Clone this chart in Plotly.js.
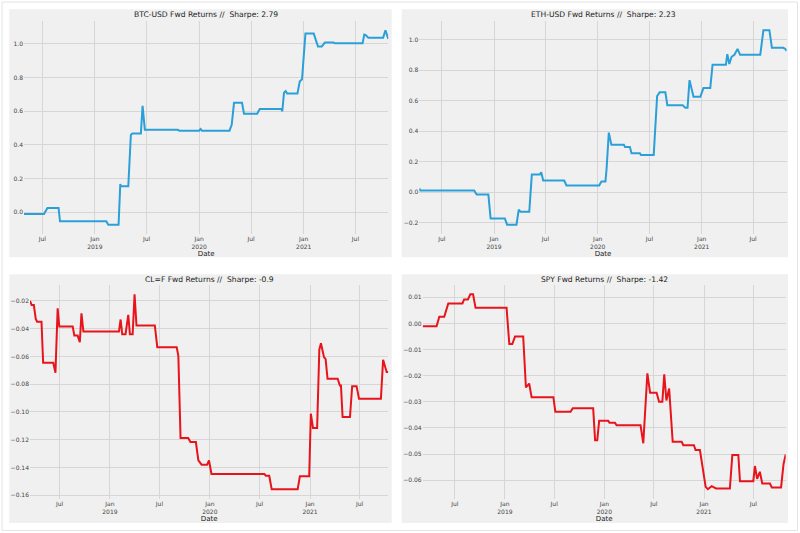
<!DOCTYPE html>
<html>
<head>
<meta charset="utf-8">
<script src="https://cdn.plot.ly/plotly-3.0.1.min.js"></script>
<style>html,body{margin:0;padding:0;background:#fff;}#chart{width:800px;height:533px;}</style>
</head>
<body>
<div id="chart"></div>
<script>
// ---------- DATA ----------
const btcTitle = "BTC-USD Fwd Returns //  Sharpe: 2.79";
const ethTitle = "ETH-USD Fwd Returns //  Sharpe: 2.23";
const clTitle  = "CL=F Fwd Returns //  Sharpe: -0.9";
const spyTitle = "SPY Fwd Returns //  Sharpe: -1.42";

const btcDates = ["2018-04-28","2018-07-07","2018-07-19","2018-08-27","2018-09-01","2019-02-10","2019-02-17","2019-03-25","2019-03-31","2019-04-02","2019-04-28","2019-05-07","2019-05-12","2019-06-11","2019-06-17","2019-06-25","2019-10-18","2019-10-24","2020-01-01","2020-01-06","2020-01-11","2020-04-16","2020-04-24","2020-05-02","2020-05-30","2020-06-06","2020-07-22","2020-07-31","2020-10-15","2020-10-18","2020-10-24","2020-10-30","2020-11-04","2020-12-10","2020-12-18","2020-12-26","2021-01-07","2021-02-05","2021-02-20","2021-03-05","2021-03-16","2021-04-15","2021-04-20","2021-07-26","2021-08-01","2021-08-06","2021-08-15","2021-10-06","2021-10-14","2021-10-24"];
const btcValues = [-0.010,-0.010,0.026,0.026,-0.053,-0.053,-0.073,-0.073,0.168,0.155,0.155,0.460,0.468,0.468,0.632,0.490,0.490,0.485,0.485,0.495,0.485,0.485,0.520,0.650,0.650,0.585,0.585,0.613,0.613,0.600,0.710,0.720,0.705,0.705,0.777,0.790,1.061,1.061,0.984,0.984,1.008,1.008,1.003,1.003,1.055,1.052,1.037,1.037,1.081,1.030];

const ethDates = ["2018-04-13","2018-04-16","2018-10-23","2018-11-01","2018-12-12","2018-12-20","2019-02-08","2019-02-16","2019-03-21","2019-03-29","2019-04-04","2019-05-05","2019-05-14","2019-06-11","2019-06-16","2019-06-23","2019-09-05","2019-09-13","2020-01-06","2020-01-14","2020-01-28","2020-02-01","2020-02-09","2020-02-18","2020-04-02","2020-04-06","2020-04-23","2020-04-29","2020-05-28","2020-06-01","2020-07-16","2020-07-28","2020-08-06","2020-08-26","2020-09-02","2020-10-26","2020-11-04","2020-11-12","2020-11-19","2020-12-03","2020-12-27","2021-01-07","2021-01-31","2021-02-08","2021-03-27","2021-04-01","2021-04-08","2021-04-16","2021-04-26","2021-05-07","2021-05-16","2021-07-26","2021-08-06","2021-08-27","2021-09-05","2021-10-15","2021-10-21","2021-10-27"];
const ethValues = [0.025,0.011,0.011,-0.015,-0.015,-0.172,-0.172,-0.213,-0.213,-0.115,-0.128,-0.128,0.115,0.115,0.130,0.076,0.076,0.044,0.044,0.070,0.070,0.150,0.390,0.310,0.310,0.296,0.296,0.255,0.255,0.244,0.244,0.630,0.654,0.654,0.569,0.569,0.553,0.553,0.734,0.625,0.625,0.682,0.682,0.834,0.834,0.904,0.840,0.887,0.900,0.939,0.900,0.900,1.061,1.061,0.946,0.946,0.940,0.926];

const clDates = ["2018-03-15","2018-03-21","2018-03-29","2018-04-05","2018-04-10","2018-04-26","2018-05-02","2018-06-08","2018-06-16","2018-06-24","2018-06-30","2018-08-18","2018-08-24","2018-09-05","2018-09-13","2018-09-19","2018-09-26","2019-02-03","2019-02-09","2019-02-15","2019-02-27","2019-03-09","2019-03-15","2019-03-25","2019-04-01","2019-04-08","2019-06-14","2019-06-23","2019-09-02","2019-09-08","2019-09-16","2019-10-14","2019-10-22","2019-11-11","2019-11-20","2019-12-02","2019-12-22","2019-12-29","2020-01-07","2020-07-18","2020-07-24","2020-08-05","2020-08-14","2020-11-17","2020-11-25","2020-12-29","2021-01-04","2021-01-12","2021-01-27","2021-02-04","2021-02-10","2021-02-21","2021-02-27","2021-03-06","2021-04-12","2021-04-20","2021-04-24","2021-04-30","2021-05-27","2021-06-04","2021-06-20","2021-06-29","2021-09-17","2021-09-25","2021-10-08","2021-10-14"];
const clValues = [-0.020,-0.023,-0.023,-0.033,-0.035,-0.035,-0.0646,-0.0646,-0.0718,-0.0253,-0.0385,-0.0385,-0.045,-0.045,-0.0497,-0.029,-0.042,-0.042,-0.0334,-0.044,-0.044,-0.030,-0.044,-0.044,-0.0152,-0.0377,-0.0377,-0.0533,-0.0533,-0.0598,-0.1188,-0.1188,-0.1217,-0.1217,-0.1348,-0.138,-0.138,-0.135,-0.1447,-0.1447,-0.146,-0.146,-0.1557,-0.1557,-0.1463,-0.1463,-0.1013,-0.1116,-0.1116,-0.055,-0.0505,-0.0605,-0.062,-0.0761,-0.0761,-0.0809,-0.0809,-0.1037,-0.1037,-0.0814,-0.0814,-0.0905,-0.0905,-0.0624,-0.0713,-0.0713];

const spyDates = ["2018-03-05","2018-04-25","2018-05-05","2018-05-23","2018-06-07","2018-07-29","2018-08-04","2018-08-18","2018-08-27","2018-09-06","2018-09-15","2019-01-07","2019-01-17","2019-01-28","2019-02-07","2019-03-09","2019-03-19","2019-03-31","2019-04-09","2019-06-28","2019-07-05","2019-08-30","2019-09-07","2019-11-21","2019-11-28","2019-12-06","2019-12-13","2020-01-15","2020-01-20","2020-02-09","2020-02-15","2020-05-13","2020-05-23","2020-06-07","2020-06-17","2020-07-11","2020-07-20","2020-08-01","2020-08-08","2020-08-16","2020-08-26","2020-09-08","2020-10-11","2020-10-17","2020-11-25","2020-12-01","2020-12-17","2021-01-07","2021-01-15","2021-01-29","2021-02-14","2021-04-06","2021-04-15","2021-05-07","2021-05-13","2021-07-01","2021-07-07","2021-07-15","2021-07-25","2021-08-03","2021-08-31","2021-09-07","2021-10-11","2021-10-20","2021-10-28"];
const spyValues = [-0.0011,-0.0011,0.0026,0.0026,0.0077,0.0077,0.0092,0.0092,0.0112,0.0112,0.0060,0.0060,-0.0079,-0.0079,-0.0050,-0.0050,-0.0245,-0.0230,-0.0283,-0.0283,-0.0338,-0.0338,-0.0325,-0.0325,-0.0447,-0.0447,-0.0373,-0.0373,-0.0380,-0.0380,-0.0390,-0.0390,-0.0459,-0.0191,-0.0265,-0.0265,-0.0300,-0.0300,-0.0195,-0.0295,-0.0249,-0.0453,-0.0453,-0.0466,-0.0466,-0.0485,-0.0485,-0.0626,-0.0635,-0.0623,-0.0632,-0.0632,-0.0504,-0.0504,-0.0604,-0.0604,-0.0546,-0.0595,-0.0568,-0.0613,-0.0613,-0.0628,-0.0628,-0.0539,-0.0502];

const xTickVals = ["2018-07-01","2019-01-01","2019-07-01","2020-01-01","2020-07-01","2021-01-01","2021-07-01"];
const xTickText = ["Jul","Jan<br>2019","Jul","Jan<br>2020","Jul","Jan<br>2021","Jul"];
const xLabel = "Date";

// ---------- STYLE ----------
const W = 800, H = 533;
const FONT = "DejaVu Sans, sans-serif";
const BG = "#f0f0f0";
const GRID = "#d6d6d6";
const BLUE = "#2a9fd8";
const RED = "#e8141b";

function px2x(p){ return p / W; }
function px2y(p){ return 1 - p / H; }

function yr(vals){
  const mn = Math.min(...vals), mx = Math.max(...vals), s = mx - mn;
  return [mn - 0.05*s, mx + 0.05*s];
}

const panels = [
  {d: btcDates, v: btcValues, c: BLUE, t: btcTitle, xd:[24,388.3], yd:[20.5,234.4], dt:0.2, fmt:".1f", gray:[9.3,391.7,9.3,257.3]},
  {d: ethDates, v: ethValues, c: BLUE, t: ethTitle, xd:[419.3,786.7], yd:[20.5,234.4], dt:0.2, fmt:".1f", gray:[401.7,788,9.3,257.3]},
  {d: clDates,  v: clValues,  c: RED,  t: clTitle,  xd:[30,388.3], yd:[284.5,499], dt:0.02, fmt:".2f", gray:[9.3,391.7,274.3,523]},
  {d: spyDates, v: spyValues, c: RED,  t: spyTitle, xd:[422.7,785.7], yd:[284.5,499], dt:0.01, fmt:".2f", gray:[401.7,788,274.3,523]}
];

const data = [];
const layout = {
  width: W, height: H,
  margin: {l:0, r:0, t:0, b:0},
  paper_bgcolor: "#ffffff",
  plot_bgcolor: BG,
  showlegend: false,
  font: {family: FONT, color: "#333"},
  shapes: [
    {type:"rect", xref:"paper", yref:"paper", x0:px2x(2), x1:px2x(797.5), y0:px2y(530.5), y1:px2y(2), line:{color:"#e4e4e4", width:1}, fillcolor:"rgba(0,0,0,0)", layer:"below"}
  ],
  annotations: []
};

panels.forEach((p, i) => {
  const n = i === 0 ? "" : String(i+1);
  data.push({
    type: "scatter", mode: "lines",
    x: p.d, y: p.v,
    xaxis: "x" + n, yaxis: "y" + n,
    line: {color: p.c, width: 2},
    hoverinfo: "skip"
  });
  layout["xaxis" + n] = {
    domain: [px2x(p.xd[0]), px2x(p.xd[1])],
    anchor: "y" + n,
    type: "date",
    range: [p.d[0], p.d[p.d.length-1]],
    tickmode: "array", tickvals: xTickVals, ticktext: xTickText,
    showgrid: true, gridcolor: GRID, gridwidth: 1,
    zeroline: false, showline: false, ticks: "",
    tickfont: {size: 6, color: "#444", family: FONT},
    title: {text: xLabel, font: {size: 7, color: "#222", family: FONT}, standoff: 1},
    fixedrange: true
  };
  layout["yaxis" + n] = {
    domain: [px2y(p.yd[1]), px2y(p.yd[0])],
    anchor: "x" + n,
    range: yr(p.v),
    dtick: p.dt, tickformat: p.fmt,
    showgrid: true, gridcolor: GRID, gridwidth: 1,
    zeroline: false, showline: false, ticks: "",
    tickfont: {size: 6, color: "#444", family: FONT},
    fixedrange: true
  };
  layout.shapes.push({type:"rect", xref:"paper", yref:"paper",
    x0:px2x(p.gray[0]), x1:px2x(p.gray[1]), y0:px2y(p.gray[3]), y1:px2y(p.gray[2]),
    fillcolor: BG, line:{width:0}, layer:"below"});
  layout.annotations.push({
    text: p.t, xref: "x" + n + " domain", yref: "y" + n + " domain",
    x: 0.5, y: 1, xanchor: "center", yanchor: "middle", yshift: 5.5,
    showarrow: false, font: {size: 7.6, color: "#222", family: FONT}
  });
});

Plotly.newPlot("chart", data, layout, {staticPlot: true, displayModeBar: false});
</script>
</body>
</html>
